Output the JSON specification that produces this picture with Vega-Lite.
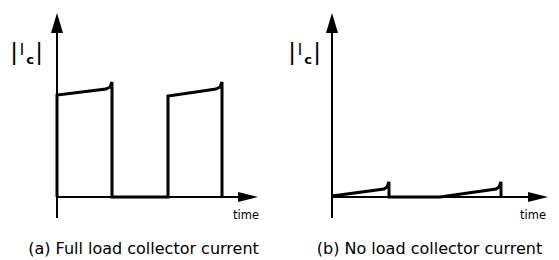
{
  "$schema": "https://vega.github.io/schema/vega-lite/v6.json",
  "background": "white",
  "padding": 0,
  "spacing": 0,
  "config": {"view": {"stroke": null}, "font": "DejaVu Sans"},
  "hconcat": [
    {
      "width": 279,
      "height": 260,
      "data": {"values": [
        {"kind": "wave", "i": 1, "t": 0, "v": 0},
        {"kind": "wave", "i": 2, "t": 0, "v": 5.54},
        {"kind": "wave", "i": 3, "t": 2.45, "v": 5.87},
        {"kind": "wave", "i": 4, "t": 2.65, "v": 5.98},
        {"kind": "wave", "i": 5, "t": 2.75, "v": 6.25},
        {"kind": "wave", "i": 6, "t": 2.75, "v": 0},
        {"kind": "wave", "i": 7, "t": 5.55, "v": 0},
        {"kind": "wave", "i": 8, "t": 5.55, "v": 5.49},
        {"kind": "wave", "i": 9, "t": 7.95, "v": 5.87},
        {"kind": "wave", "i": 10, "t": 8.15, "v": 5.98},
        {"kind": "wave", "i": 11, "t": 8.25, "v": 6.25},
        {"kind": "wave", "i": 12, "t": 8.25, "v": 0},
        {"kind": "axis", "t": 0, "v": 0, "t2": 9.1, "v2": 0},
        {"kind": "axis", "t": 0, "v": -1.14, "t2": 0, "v2": 9.0},
        {"kind": "arrowUp", "t": 0, "v": 9.46},
        {"kind": "arrowRight", "t": 9.55, "v": 0},
        {"kind": "time", "t": 9.45, "v": -1.03, "txt": "time"},
        {"kind": "caption", "t": 4.325, "v": -2.8, "txt": "(a) Full load collector current"},
        {"kind": "bar", "t": -2.15, "v": 7.83, "txt": "|"},
        {"kind": "bar", "t": -0.9, "v": 7.83, "txt": "|"},
        {"kind": "I", "t": -1.75, "v": 8.0, "txt": "I"},
        {"kind": "sub", "t": -1.35, "v": 7.45, "txt": "c"}
      ]},
      "encoding": {
        "x": {"field": "t", "type": "quantitative", "scale": {"domain": [-2.85, 11.1]}, "axis": null},
        "y": {"field": "v", "type": "quantitative", "scale": {"domain": [-3.424, 10.707]}, "axis": null}
      },
      "layer": [
        {"transform": [{"filter": "datum.kind == 'axis'"}], "mark": {"type": "rule", "color": "black", "strokeWidth": 2}, "encoding": {"x2": {"field": "t2"}, "y2": {"field": "v2"}}},
        {"transform": [{"filter": "datum.kind == 'wave'"}], "mark": {"type": "line", "color": "black", "strokeWidth": 3, "strokeJoin": "miter"}, "encoding": {"order": {"field": "i", "type": "quantitative"}}},
        {"transform": [{"filter": "datum.kind == 'arrowUp'"}], "mark": {"type": "point", "shape": "M0,-1L0.6,1L-0.6,1Z", "size": 400, "filled": true, "color": "black", "opacity": 1, "strokeWidth": 0}},
        {"transform": [{"filter": "datum.kind == 'arrowRight'"}], "mark": {"type": "point", "shape": "M1,0L-1,0.5L-1,-0.5Z", "size": 400, "filled": true, "color": "black", "opacity": 1, "strokeWidth": 0}},
        {"transform": [{"filter": "datum.kind == 'time'"}], "mark": {"type": "text", "fontSize": 11.5, "color": "black", "baseline": "middle", "align": "center"}, "encoding": {"text": {"field": "txt"}}},
        {"transform": [{"filter": "datum.kind == 'caption'"}], "mark": {"type": "text", "fontSize": 16, "color": "black", "baseline": "middle", "align": "center"}, "encoding": {"text": {"field": "txt"}}},
        {"transform": [{"filter": "datum.kind == 'bar'"}], "mark": {"type": "text", "fontSize": 23, "color": "black", "baseline": "middle", "align": "center"}, "encoding": {"text": {"field": "txt"}}},
        {"transform": [{"filter": "datum.kind == 'I'"}], "mark": {"type": "text", "fontSize": 15, "color": "black", "baseline": "middle", "align": "center"}, "encoding": {"text": {"field": "txt"}}},
        {"transform": [{"filter": "datum.kind == 'sub'"}], "mark": {"type": "text", "fontSize": 13, "fontWeight": "bold", "color": "black", "baseline": "middle", "align": "center"}, "encoding": {"text": {"field": "txt"}}}
      ]
    },
    {
      "width": 280,
      "height": 260,
      "data": {"values": [
        {"kind": "wave", "i": 1, "t": 0, "v": 0.05},
        {"kind": "wave", "i": 2, "t": 2.6, "v": 0.43},
        {"kind": "wave", "i": 3, "t": 2.75, "v": 0.54},
        {"kind": "wave", "i": 4, "t": 2.85, "v": 0.82},
        {"kind": "wave", "i": 5, "t": 2.85, "v": 0},
        {"kind": "wave", "i": 6, "t": 5.4, "v": 0},
        {"kind": "wave", "i": 7, "t": 8.2, "v": 0.43},
        {"kind": "wave", "i": 8, "t": 8.35, "v": 0.54},
        {"kind": "wave", "i": 9, "t": 8.45, "v": 0.82},
        {"kind": "wave", "i": 10, "t": 8.45, "v": 0},
        {"kind": "axis", "t": 0, "v": 0, "t2": 9.8, "v2": 0},
        {"kind": "axis", "t": 0, "v": -1.14, "t2": 0, "v2": 9.0},
        {"kind": "arrowUp", "t": 0, "v": 9.46},
        {"kind": "arrowRight", "t": 10.3, "v": 0},
        {"kind": "time", "t": 10.05, "v": -1.03, "txt": "time"},
        {"kind": "caption", "t": 4.875, "v": -2.8, "txt": "(b) No load collector current"},
        {"kind": "bar", "t": -2.0, "v": 7.83, "txt": "|"},
        {"kind": "bar", "t": -0.75, "v": 7.83, "txt": "|"},
        {"kind": "I", "t": -1.6, "v": 8.0, "txt": "I"},
        {"kind": "sub", "t": -1.2, "v": 7.45, "txt": "c"}
      ]},
      "encoding": {
        "x": {"field": "t", "type": "quantitative", "scale": {"domain": [-2.65, 11.35]}, "axis": null},
        "y": {"field": "v", "type": "quantitative", "scale": {"domain": [-3.424, 10.707]}, "axis": null}
      },
      "layer": [
        {"transform": [{"filter": "datum.kind == 'axis'"}], "mark": {"type": "rule", "color": "black", "strokeWidth": 2}, "encoding": {"x2": {"field": "t2"}, "y2": {"field": "v2"}}},
        {"transform": [{"filter": "datum.kind == 'wave'"}], "mark": {"type": "line", "color": "black", "strokeWidth": 3, "strokeJoin": "miter"}, "encoding": {"order": {"field": "i", "type": "quantitative"}}},
        {"transform": [{"filter": "datum.kind == 'arrowUp'"}], "mark": {"type": "point", "shape": "M0,-1L0.6,1L-0.6,1Z", "size": 400, "filled": true, "color": "black", "opacity": 1, "strokeWidth": 0}},
        {"transform": [{"filter": "datum.kind == 'arrowRight'"}], "mark": {"type": "point", "shape": "M1,0L-1,0.5L-1,-0.5Z", "size": 400, "filled": true, "color": "black", "opacity": 1, "strokeWidth": 0}},
        {"transform": [{"filter": "datum.kind == 'time'"}], "mark": {"type": "text", "fontSize": 11.5, "color": "black", "baseline": "middle", "align": "center"}, "encoding": {"text": {"field": "txt"}}},
        {"transform": [{"filter": "datum.kind == 'caption'"}], "mark": {"type": "text", "fontSize": 16, "color": "black", "baseline": "middle", "align": "center"}, "encoding": {"text": {"field": "txt"}}},
        {"transform": [{"filter": "datum.kind == 'bar'"}], "mark": {"type": "text", "fontSize": 23, "color": "black", "baseline": "middle", "align": "center"}, "encoding": {"text": {"field": "txt"}}},
        {"transform": [{"filter": "datum.kind == 'I'"}], "mark": {"type": "text", "fontSize": 15, "color": "black", "baseline": "middle", "align": "center"}, "encoding": {"text": {"field": "txt"}}},
        {"transform": [{"filter": "datum.kind == 'sub'"}], "mark": {"type": "text", "fontSize": 13, "fontWeight": "bold", "color": "black", "baseline": "middle", "align": "center"}, "encoding": {"text": {"field": "txt"}}}
      ]
    }
  ]
}
